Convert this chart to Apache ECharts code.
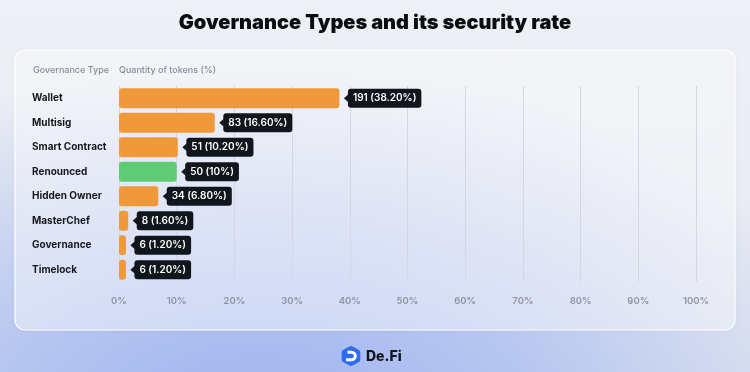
<!DOCTYPE html>
<html>
<head>
<meta charset="utf-8">
<script src="https://cdn.jsdelivr.net/npm/echarts@6/dist/echarts.min.js"></script>
<style>
  html, body { margin: 0; padding: 0; }
  body {
    width: 750px; height: 372px; overflow: hidden;
    background:
      radial-gradient(ellipse 620px 360px at 260px 425px, rgba(156,178,240,1) 0%, rgba(166,186,240,0.72) 45%, rgba(200,210,240,0) 100%),
      linear-gradient(180deg, #eef0f5 0%, #e5e8f0 100%);
  }
  #chart { width: 750px; height: 372px; }
</style>
</head>
<body>
<div id="chart"></div>
<script>
const categories = ['Wallet', 'Multisig', 'Smart Contract', 'Renounced', 'Hidden Owner', 'MasterChef', 'Governance', 'Timelock'];
const counts = [191, 83, 51, 50, 34, 8, 6, 6];
const percents = [38.2, 16.6, 10.2, 10, 6.8, 1.6, 1.2, 1.2];
const percentLabels = ['38.20%', '16.60%', '10.20%', '10%', '6.80%', '1.60%', '1.20%', '1.20%'];
const barColors = ['#F0993A', '#F0993A', '#F0993A', '#5FCB72', '#F0993A', '#F0993A', '#F0993A', '#F0993A'];
const xTicks = [0, 10, 20, 30, 40, 50, 60, 70, 80, 90, 100];

const FONT = 'Inter, "Noto Sans", sans-serif';
const chart = echarts.init(document.getElementById('chart'), null, { renderer: 'canvas' });

const tagData = percents.map((p, i) => [p, i]);

chart.setOption({
  animation: false,
  backgroundColor: 'transparent',
  title: {
    text: 'Governance Types and its security rate',
    left: 'center',
    top: 8,
    textStyle: { fontFamily: FONT, fontWeight: 900, fontSize: 20, color: '#0b0d12' }
  },
  graphic: [
    {
      type: 'rect', z: -10, silent: true,
      shape: { x: 15, y: 50, width: 720, height: 280, r: 10 },
      style: { fill: 'rgba(255,255,255,0.45)', stroke: 'rgba(255,255,255,0.95)', lineWidth: 1.2,
               shadowBlur: 6, shadowColor: 'rgba(120,130,160,0.08)' }
    },
    {
      type: 'text', x: 33, y: 70, silent: true,
      style: { text: 'Governance Type', font: '500 9px ' + FONT, fill: '#868b98', verticalAlign: 'middle' }
    },
    {
      type: 'text', x: 119, y: 70, silent: true,
      style: { text: 'Quantity of tokens (%)', font: '500 9px ' + FONT, fill: '#868b98', verticalAlign: 'middle' }
    },
    {
      type: 'polygon', silent: true,
      shape: { points: [[351, 346], [360, 351], [360, 361], [351, 366], [342, 361], [342, 351]], smooth: 0.12 },
      style: { fill: '#2D6BF0' }
    },
    {
      type: 'sector', silent: true,
      shape: { cx: 351.5, cy: 356, r0: 2.3, r: 5.3, startAngle: -Math.PI / 2, endAngle: Math.PI / 2 },
      style: { fill: '#ffffff' }
    },
    {
      type: 'rect', silent: true,
      shape: { x: 347.5, y: 350.7, width: 4.2, height: 3 },
      style: { fill: '#ffffff' }
    },
    {
      type: 'rect', silent: true,
      shape: { x: 346, y: 358.3, width: 5.7, height: 3 },
      style: { fill: '#ffffff' }
    },
    {
      type: 'text', x: 366, y: 356.5, silent: true,
      style: { text: 'De.Fi', font: '800 14px ' + FONT, fill: '#12141a', verticalAlign: 'middle' }
    }
  ],
  grid: { left: 119, right: 54, top: 86, height: 196, containLabel: false },
  xAxis: {
    type: 'value', min: 0, max: 100, interval: 10,
    axisLine: { show: false }, axisTick: { show: false },
    splitLine: { lineStyle: { color: '#d4d7e1', width: 1 } },
    axisLabel: { formatter: '{value}%', color: '#8e93a0', fontFamily: FONT, fontWeight: 600, fontSize: 9.5, margin: 14 }
  },
  yAxis: {
    type: 'category', data: categories, inverse: true,
    axisLine: { show: false }, axisTick: { show: false }, splitLine: { show: false },
    axisLabel: { align: 'left', margin: 87, color: '#15171d', fontFamily: FONT, fontWeight: 700, fontSize: 10 }
  },
  series: [
    {
      type: 'bar', barWidth: 20,
      data: percents.map((v, i) => ({ value: v, itemStyle: { color: barColors[i] } })),
      itemStyle: { borderRadius: 3 }
    },
    {
      type: 'custom',
      data: tagData,
      encode: { x: 0, y: 1 },
      renderItem: function (params, api) {
        const i = params.dataIndex;
        const p = api.coord([api.value(0), api.value(1)]);
        const x = p[0] + 4.5;
        const y = p[1];
        const text = counts[i] + ' (' + percentLabels[i] + ')';
        return {
          type: 'group',
          children: [
            { type: 'polygon', shape: { points: [[x, y], [x + 4.5, y - 4], [x + 4.5, y + 4]] }, style: { fill: '#11151c' } },
            { type: 'text', x: x + 4, y: y,
              style: { text: text, fill: '#ffffff', font: '600 10px ' + FONT, align: 'left', verticalAlign: 'middle',
                       backgroundColor: '#11151c', padding: [5, 5, 4, 5], borderRadius: 3 } }
          ]
        };
      }
    }
  ]
});
</script>
</body>
</html>
